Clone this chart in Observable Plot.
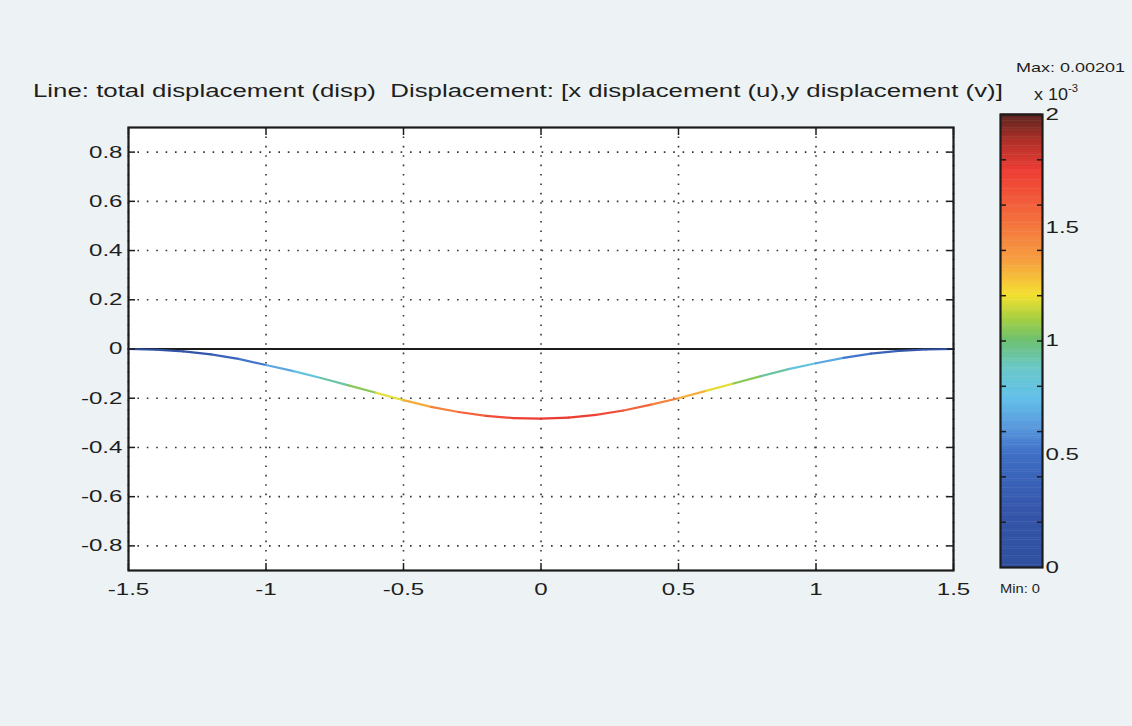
<!DOCTYPE html>
<html><head><meta charset="utf-8">
<script src="https://cdn.jsdelivr.net/npm/d3@7"></script>
<script src="https://cdn.jsdelivr.net/npm/@observablehq/plot@0.6"></script>
<style>
body{margin:0;background:#edf3f4;font-family:"Liberation Sans",Arial,sans-serif;}
#wrap{position:relative;width:1132px;height:726px;overflow:hidden;background:#edf3f4;}
#wrap svg{position:absolute;top:0;}
.lbl{position:absolute;color:#1e1e1e;white-space:nowrap;line-height:1;transform-origin:0 50%;}
</style></head><body><div id="wrap">
<div class="lbl" id="title" data-w="970" style="left:33px;top:83px;font-size:17.5px;">Line: total displacement (disp)&nbsp; Displacement: [x displacement (u),y displacement (v)]</div>
<div class="lbl" id="maxl" data-w="109" style="left:1016px;top:61px;font-size:13px;">Max: 0.00201</div>
<div class="lbl" id="exp" data-w="44" style="left:1034px;top:86px;font-size:16px;">x 10<sup style="font-size:10px;position:relative;top:-2px;">-3</sup></div>
<div class="lbl" id="minl" data-w="40" style="left:1000px;top:582px;font-size:13px;">Min: 0</div>
</div>
<script>
// deformed line: x position, vertical position (deformed, scaled), total displacement (x1e-3)
const xs   = [-1.5,-1.4,-1.3,-1.2,-1.1,-1.0,-0.9,-0.8,-0.7,-0.6,-0.5,-0.4,-0.3,-0.2,-0.1,0.0,0.1,0.2,0.3,0.4,0.5,0.6,0.7,0.8,0.9,1.0,1.1,1.2,1.3,1.4,1.5];
const ys   = [0.000,-0.003,-0.010,-0.022,-0.040,-0.065,-0.090,-0.118,-0.148,-0.178,-0.208,-0.235,-0.256,-0.272,-0.281,-0.283,-0.279,-0.268,-0.250,-0.226,-0.200,-0.170,-0.140,-0.110,-0.082,-0.058,-0.036,-0.019,-0.008,-0.002,0.000];
const disp = [0.00,0.12,0.25,0.38,0.52,0.66,0.80,0.93,1.05,1.18,1.32,1.46,1.58,1.68,1.74,1.76,1.74,1.68,1.58,1.46,1.32,1.18,1.05,0.93,0.80,0.66,0.52,0.38,0.25,0.12,0.00];
const baseX = [-1.5, 1.5];
const baseY = [0, 0];

const xTicks = [-1.5,-1,-0.5,0,0.5,1,1.5];
const yTicks = [-0.8,-0.6,-0.4,-0.2,0,0.2,0.4,0.6,0.8];
const cbLabels = [0,0.5,1,1.5,2];
const cbMinor = [0.2,0.4,0.6,0.8,1.0,1.2,1.4,1.6,1.8];
const cmapStops  = [0, 0.25, 0.5, 0.62, 0.75, 0.88, 1.0, 1.1, 1.2, 1.35, 1.55, 1.75, 1.88, 2.0];
const cmapColors = ["#2f4f9e","#3555aa","#3f6ec6","#5a9ade","#62c0ea","#6ac8c8","#6cc070","#a8d040","#f4e030","#f6a040","#f46a3c","#ee3c34","#b03028","#5a2420"];

const points = xs.map((x, i) => ({x, y: ys[i], d: disp[i]}));
const base = baseX.map((x, i) => ({x, y: baseY[i]}));
const fmt = d => String(d);
const dotted = {stroke: "#333", strokeOpacity: 1, strokeWidth: 1.6, strokeDasharray: "1.6,7.8"};
const font = {fontFamily: '"Liberation Sans", Arial, sans-serif', fontSize: "17px", color: "#1e1e1e", background: "transparent", overflow: "visible"};
const colorScale = {type: "linear", domain: cmapStops, range: cmapColors, clamp: true};

const main = Plot.plot({
  width: 1000, height: 726,
  marginLeft: 128, marginRight: 47, marginTop: 127, marginBottom: 156,
  x: {domain: [-1.5, 1.5], label: null},
  y: {domain: [-0.9, 0.9], label: null},
  color: colorScale,
  style: font,
  marks: [
    Plot.frame({fill: "white"}),
    Plot.gridX({ticks: xTicks, ...dotted}),
    Plot.gridY({ticks: yTicks, ...dotted}),
    Plot.line(base, {x: "x", y: "y", stroke: "#1c1c1c", strokeWidth: 2}),
    Plot.line(points, {x: "x", y: "y", stroke: "d", z: null, strokeWidth: 2.2, curve: "catmull-rom"}),
    Plot.axisX({anchor: "bottom", ticks: xTicks, tickSize: -7, tickPadding: 19, tickFormat: fmt, stroke: "#1c1c1c", strokeWidth: 1.5}),
    Plot.axisX({anchor: "top", ticks: xTicks, tickSize: -7, tickFormat: () => "", stroke: "#1c1c1c", strokeWidth: 1.5}),
    Plot.axisY({anchor: "left", ticks: yTicks, tickSize: -7, tickPadding: 13, tickFormat: fmt, stroke: "#1c1c1c", strokeWidth: 1.5}),
    Plot.axisY({anchor: "right", ticks: yTicks, tickSize: -7, tickFormat: () => "", stroke: "#1c1c1c", strokeWidth: 1.5}),
    Plot.frame({stroke: "#1c1c1c", strokeWidth: 2.2})
  ]
});
main.style.left = "0px";

const step = 0.01;
const cbSteps = d3.range(0, 2, step);
const cb = Plot.plot({
  width: 172, height: 726,
  marginLeft: 40, marginRight: 90, marginTop: 114, marginBottom: 159,
  y: {domain: [0, 2], label: null},
  color: colorScale,
  style: font,
  marks: [
    Plot.rect(cbSteps, {y1: d => d, y2: d => d + step + 0.002, fill: d => d + step / 2}),
    Plot.axisY({anchor: "right", ticks: cbLabels, tickSize: 0, tickPadding: 3, tickFormat: fmt}),
    Plot.axisY({anchor: "left", ticks: cbMinor, tickSize: -6, tickFormat: () => "", stroke: "#1c1c1c", strokeWidth: 1.5}),
    Plot.axisY({anchor: "right", ticks: cbMinor, tickSize: -6, tickFormat: () => "", stroke: "#1c1c1c", strokeWidth: 1.5}),
    Plot.frame({stroke: "#1c1c1c", strokeWidth: 2.2})
  ]
});
cb.style.left = "960px";

const wrap = document.getElementById("wrap");
wrap.appendChild(main);
wrap.appendChild(cb);

// the reference scan is stretched horizontally: widen the glyphs about their anchor
function stretch(svg, s) {
  svg.querySelectorAll("text").forEach(t => {
    if (!t.textContent) return;
    const tr = t.getAttribute("transform") || "";
    t.setAttribute("transform", `${tr} scale(${s},1)`);
  });
}
stretch(main, 1.42);
stretch(cb, 1.42);
document.querySelectorAll(".lbl").forEach(el => {
  const w = el.getBoundingClientRect().width;
  el.style.transform = `scaleX(${(+el.dataset.w / w).toFixed(3)})`;
});
</script>
</body></html>
